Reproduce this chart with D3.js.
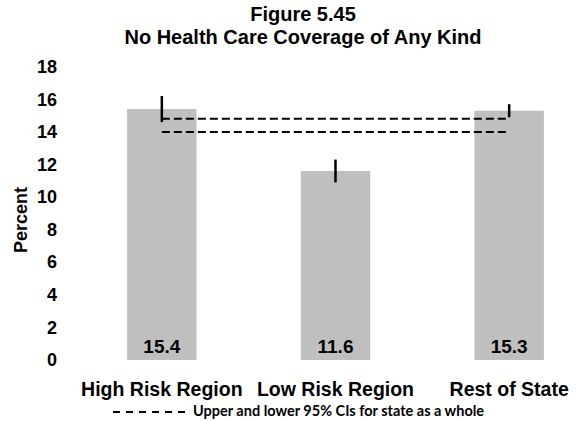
<!DOCTYPE html>
<html lang="en">
<head>
<meta charset="UTF-8">
<title>Figure 5.45</title>
<style>
  body { margin: 0; background: #fff; }
  svg { display: block; font-family: "Liberation Sans", Arial, sans-serif; }
</style>
</head>
<body>
<div id="chart"></div>
<script src="https://cdn.jsdelivr.net/npm/d3@7"></script>
<script>
// data
const categories = ["High Risk Region", "Low Risk Region", "Rest of State"];
const values = [15.4, 11.6, 15.3];
const ciLow = [14.6, 10.9, 14.9];
const ciHigh = [16.2, 12.3, 15.7];
const stateCI = [14.8, 14.0]; // upper, lower for state as a whole
const yTicks = [0, 2, 4, 6, 8, 10, 12, 14, 16, 18];

const W = 576, H = 421;
const svg = d3.select("#chart").append("svg")
  .attr("width", W).attr("height", H);

// scales
const x = d3.scaleBand()
  .domain(categories)
  .range([75, 596])
  .paddingInner(0.6)
  .paddingOuter(0.3);
const y = d3.scaleLinear().domain([0, 18]).range([360, 66.7]);

// title
svg.append("text")
  .attr("x", 303).attr("y", 21)
  .attr("text-anchor", "middle")
  .attr("font-size", 20).attr("font-weight", "bold")
  .text("Figure 5.45");
svg.append("text")
  .attr("x", 303).attr("y", 44)
  .attr("text-anchor", "middle")
  .attr("font-size", 20).attr("font-weight", "bold")
  .text("No Health Care Coverage of Any Kind");

// y axis (labels only)
const yAxis = svg.append("g")
  .attr("transform", "translate(57,0)")
  .call(d3.axisLeft(y).tickValues(yTicks).tickSize(0).tickPadding(0));
yAxis.select(".domain").remove();
yAxis.selectAll("text")
  .attr("font-size", 18).attr("font-weight", "bold")
  .attr("font-family", "Liberation Sans, Arial, sans-serif")
  .attr("fill", "#000");

svg.append("text")
  .attr("transform", "translate(27,220) rotate(-90)")
  .attr("text-anchor", "middle")
  .attr("font-size", 18).attr("font-weight", "bold")
  .text("Percent");

// bars
svg.append("g").selectAll("rect")
  .data(values)
  .join("rect")
  .attr("x", (d, i) => x(categories[i]))
  .attr("width", x.bandwidth())
  .attr("y", d => y(d))
  .attr("height", d => y(0) - y(d))
  .attr("fill", "#bfbfbf");

// error bars
svg.append("g").selectAll("line")
  .data(categories)
  .join("line")
  .attr("x1", d => x(d) + x.bandwidth() / 2)
  .attr("x2", d => x(d) + x.bandwidth() / 2)
  .attr("y1", (d, i) => y(ciHigh[i]))
  .attr("y2", (d, i) => y(ciLow[i]))
  .attr("stroke", "#000")
  .attr("stroke-width", 2.5);

// state CI dashed lines, from first to last category
const xFirst = x(categories[0]) + x.bandwidth() / 2;
const xLast = x(categories[categories.length - 1]) + x.bandwidth() / 2;
svg.append("g").selectAll("line")
  .data(stateCI)
  .join("line")
  .attr("x1", xFirst).attr("x2", xLast)
  .attr("y1", d => y(d)).attr("y2", d => y(d))
  .attr("stroke", "#000")
  .attr("stroke-width", 2)
  .attr("stroke-dasharray", "8,4");

// value labels
svg.append("g").selectAll("text")
  .data(values)
  .join("text")
  .attr("x", (d, i) => x(categories[i]) + x.bandwidth() / 2)
  .attr("y", 353)
  .attr("text-anchor", "middle")
  .attr("font-size", 19).attr("font-weight", "bold")
  .text(d => d.toFixed(1));

// category labels
svg.append("g").selectAll("text")
  .data(categories)
  .join("text")
  .attr("x", d => x(d) + x.bandwidth() / 2)
  .attr("y", 396)
  .attr("text-anchor", "middle")
  .attr("font-size", 19.5).attr("font-weight", "bold")
  .text(d => d);

// legend
svg.append("line")
  .attr("x1", 113).attr("x2", 190)
  .attr("y1", 412).attr("y2", 412)
  .attr("stroke", "#000").attr("stroke-width", 2)
  .attr("stroke-dasharray", "7,6");
svg.append("text")
  .attr("x", 193).attr("y", 416)
  .attr("font-family", "Lato, 'Open Sans', sans-serif")
  .attr("font-size", 14.5).attr("font-weight", "bold")
  .text("Upper and lower 95% CIs for state as a whole");
</script>
</body>
</html>
